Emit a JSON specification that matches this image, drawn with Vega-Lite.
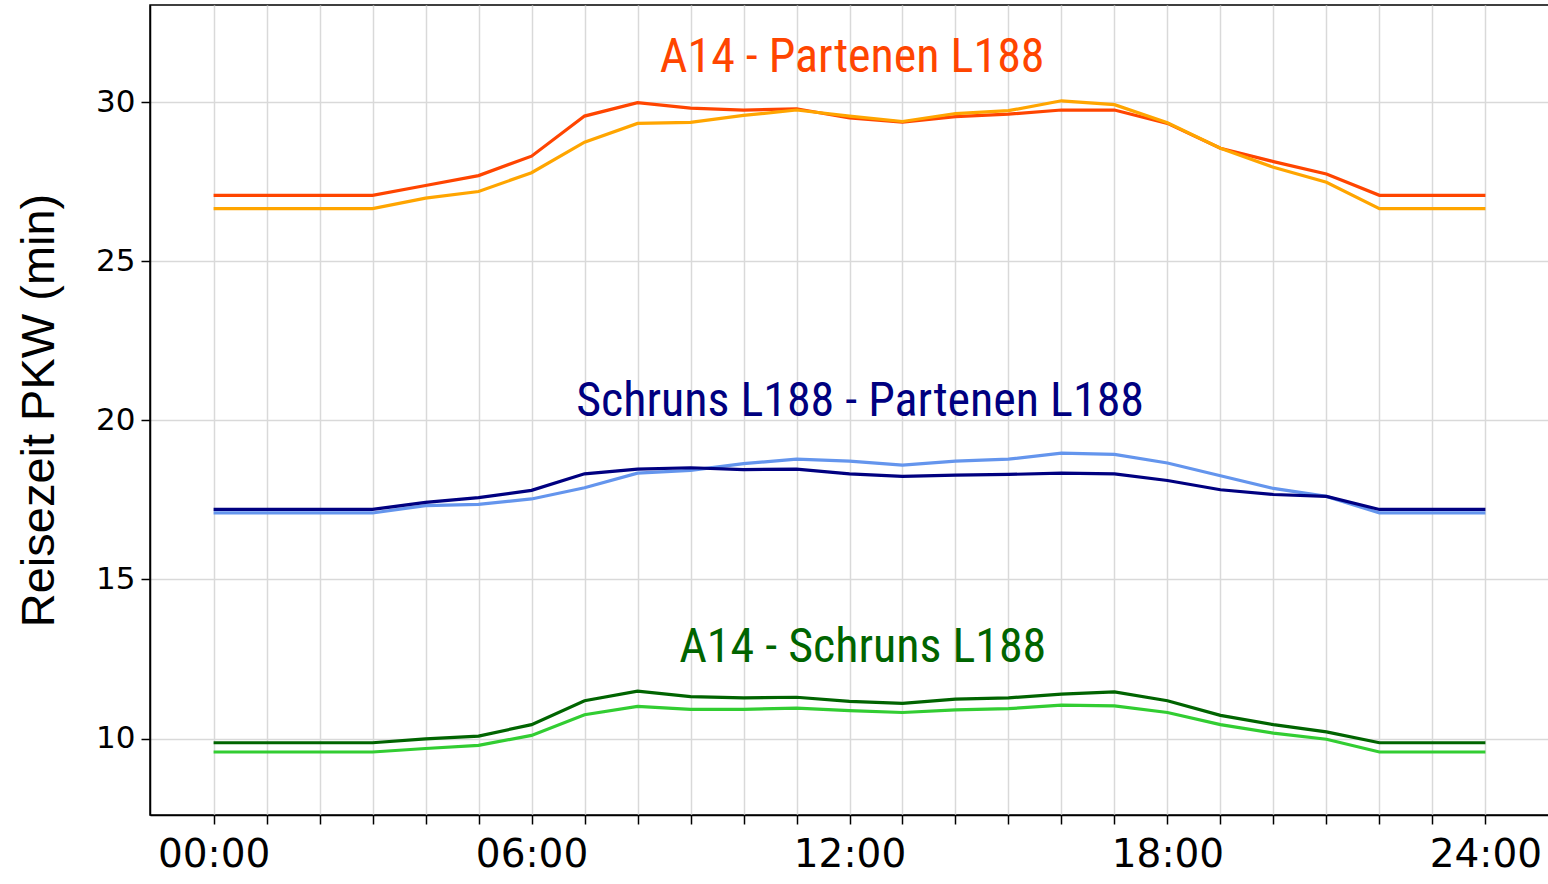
{
  "$schema": "https://vega.github.io/schema/vega-lite/v6.json",
  "autosize": {"type": "none"},
  "padding": {"left": 150, "top": 5, "right": 0, "bottom": 69},
  "width": 1399,
  "height": 810,
  "background": "white",
  "config": {
    "view": {"stroke": "black", "strokeWidth": 1.5},
    "axis": {"gridColor": "#d9d9d9", "gridWidth": 1.5, "domainColor": "black", "domainWidth": 1.5, "tickColor": "black", "tickWidth": 1.5, "tickSize": 9, "labelColor": "black", "titleColor": "black"}
  },
  "datasets": {
    "lines": [
      {"s": "A14-Partenen-1", "h": 0, "v": 27.07}, {"s": "A14-Partenen-1", "h": 1, "v": 27.07}, {"s": "A14-Partenen-1", "h": 2, "v": 27.07}, {"s": "A14-Partenen-1", "h": 3, "v": 27.07}, {"s": "A14-Partenen-1", "h": 4, "v": 27.38}, {"s": "A14-Partenen-1", "h": 5, "v": 27.69}, {"s": "A14-Partenen-1", "h": 6, "v": 28.30}, {"s": "A14-Partenen-1", "h": 7, "v": 29.56}, {"s": "A14-Partenen-1", "h": 8, "v": 29.98}, {"s": "A14-Partenen-1", "h": 9, "v": 29.81}, {"s": "A14-Partenen-1", "h": 10, "v": 29.75}, {"s": "A14-Partenen-1", "h": 11, "v": 29.79}, {"s": "A14-Partenen-1", "h": 12, "v": 29.50}, {"s": "A14-Partenen-1", "h": 13, "v": 29.37}, {"s": "A14-Partenen-1", "h": 14, "v": 29.54}, {"s": "A14-Partenen-1", "h": 15, "v": 29.62}, {"s": "A14-Partenen-1", "h": 16, "v": 29.75}, {"s": "A14-Partenen-1", "h": 17, "v": 29.75}, {"s": "A14-Partenen-1", "h": 18, "v": 29.33}, {"s": "A14-Partenen-1", "h": 19, "v": 28.55}, {"s": "A14-Partenen-1", "h": 20, "v": 28.13}, {"s": "A14-Partenen-1", "h": 21, "v": 27.74}, {"s": "A14-Partenen-1", "h": 22, "v": 27.07}, {"s": "A14-Partenen-1", "h": 23, "v": 27.07}, {"s": "A14-Partenen-1", "h": 24, "v": 27.07},
      {"s": "A14-Partenen-2", "h": 0, "v": 26.65}, {"s": "A14-Partenen-2", "h": 1, "v": 26.65}, {"s": "A14-Partenen-2", "h": 2, "v": 26.65}, {"s": "A14-Partenen-2", "h": 3, "v": 26.65}, {"s": "A14-Partenen-2", "h": 4, "v": 26.98}, {"s": "A14-Partenen-2", "h": 5, "v": 27.19}, {"s": "A14-Partenen-2", "h": 6, "v": 27.78}, {"s": "A14-Partenen-2", "h": 7, "v": 28.74}, {"s": "A14-Partenen-2", "h": 8, "v": 29.33}, {"s": "A14-Partenen-2", "h": 9, "v": 29.36}, {"s": "A14-Partenen-2", "h": 10, "v": 29.58}, {"s": "A14-Partenen-2", "h": 11, "v": 29.75}, {"s": "A14-Partenen-2", "h": 12, "v": 29.56}, {"s": "A14-Partenen-2", "h": 13, "v": 29.39}, {"s": "A14-Partenen-2", "h": 14, "v": 29.64}, {"s": "A14-Partenen-2", "h": 15, "v": 29.73}, {"s": "A14-Partenen-2", "h": 16, "v": 30.04}, {"s": "A14-Partenen-2", "h": 17, "v": 29.92}, {"s": "A14-Partenen-2", "h": 18, "v": 29.35}, {"s": "A14-Partenen-2", "h": 19, "v": 28.55}, {"s": "A14-Partenen-2", "h": 20, "v": 27.95}, {"s": "A14-Partenen-2", "h": 21, "v": 27.48}, {"s": "A14-Partenen-2", "h": 22, "v": 26.65}, {"s": "A14-Partenen-2", "h": 23, "v": 26.65}, {"s": "A14-Partenen-2", "h": 24, "v": 26.65},
      {"s": "Schruns-Partenen-2", "h": 0, "v": 17.09}, {"s": "Schruns-Partenen-2", "h": 1, "v": 17.09}, {"s": "Schruns-Partenen-2", "h": 2, "v": 17.09}, {"s": "Schruns-Partenen-2", "h": 3, "v": 17.09}, {"s": "Schruns-Partenen-2", "h": 4, "v": 17.32}, {"s": "Schruns-Partenen-2", "h": 5, "v": 17.36}, {"s": "Schruns-Partenen-2", "h": 6, "v": 17.53}, {"s": "Schruns-Partenen-2", "h": 7, "v": 17.88}, {"s": "Schruns-Partenen-2", "h": 8, "v": 18.34}, {"s": "Schruns-Partenen-2", "h": 9, "v": 18.43}, {"s": "Schruns-Partenen-2", "h": 10, "v": 18.64}, {"s": "Schruns-Partenen-2", "h": 11, "v": 18.78}, {"s": "Schruns-Partenen-2", "h": 12, "v": 18.72}, {"s": "Schruns-Partenen-2", "h": 13, "v": 18.59}, {"s": "Schruns-Partenen-2", "h": 14, "v": 18.72}, {"s": "Schruns-Partenen-2", "h": 15, "v": 18.78}, {"s": "Schruns-Partenen-2", "h": 16, "v": 18.97}, {"s": "Schruns-Partenen-2", "h": 17, "v": 18.93}, {"s": "Schruns-Partenen-2", "h": 18, "v": 18.66}, {"s": "Schruns-Partenen-2", "h": 19, "v": 18.26}, {"s": "Schruns-Partenen-2", "h": 20, "v": 17.86}, {"s": "Schruns-Partenen-2", "h": 21, "v": 17.61}, {"s": "Schruns-Partenen-2", "h": 22, "v": 17.09}, {"s": "Schruns-Partenen-2", "h": 23, "v": 17.09}, {"s": "Schruns-Partenen-2", "h": 24, "v": 17.09},
      {"s": "Schruns-Partenen-1", "h": 0, "v": 17.20}, {"s": "Schruns-Partenen-1", "h": 1, "v": 17.20}, {"s": "Schruns-Partenen-1", "h": 2, "v": 17.20}, {"s": "Schruns-Partenen-1", "h": 3, "v": 17.20}, {"s": "Schruns-Partenen-1", "h": 4, "v": 17.42}, {"s": "Schruns-Partenen-1", "h": 5, "v": 17.57}, {"s": "Schruns-Partenen-1", "h": 6, "v": 17.80}, {"s": "Schruns-Partenen-1", "h": 7, "v": 18.32}, {"s": "Schruns-Partenen-1", "h": 8, "v": 18.47}, {"s": "Schruns-Partenen-1", "h": 9, "v": 18.51}, {"s": "Schruns-Partenen-1", "h": 10, "v": 18.45}, {"s": "Schruns-Partenen-1", "h": 11, "v": 18.47}, {"s": "Schruns-Partenen-1", "h": 12, "v": 18.32}, {"s": "Schruns-Partenen-1", "h": 13, "v": 18.24}, {"s": "Schruns-Partenen-1", "h": 14, "v": 18.28}, {"s": "Schruns-Partenen-1", "h": 15, "v": 18.30}, {"s": "Schruns-Partenen-1", "h": 16, "v": 18.34}, {"s": "Schruns-Partenen-1", "h": 17, "v": 18.32}, {"s": "Schruns-Partenen-1", "h": 18, "v": 18.11}, {"s": "Schruns-Partenen-1", "h": 19, "v": 17.82}, {"s": "Schruns-Partenen-1", "h": 20, "v": 17.67}, {"s": "Schruns-Partenen-1", "h": 21, "v": 17.61}, {"s": "Schruns-Partenen-1", "h": 22, "v": 17.20}, {"s": "Schruns-Partenen-1", "h": 23, "v": 17.20}, {"s": "Schruns-Partenen-1", "h": 24, "v": 17.20},
      {"s": "A14-Schruns-1", "h": 0, "v": 9.87}, {"s": "A14-Schruns-1", "h": 1, "v": 9.87}, {"s": "A14-Schruns-1", "h": 2, "v": 9.87}, {"s": "A14-Schruns-1", "h": 3, "v": 9.87}, {"s": "A14-Schruns-1", "h": 4, "v": 9.99}, {"s": "A14-Schruns-1", "h": 5, "v": 10.08}, {"s": "A14-Schruns-1", "h": 6, "v": 10.44}, {"s": "A14-Schruns-1", "h": 7, "v": 11.19}, {"s": "A14-Schruns-1", "h": 8, "v": 11.49}, {"s": "A14-Schruns-1", "h": 9, "v": 11.32}, {"s": "A14-Schruns-1", "h": 10, "v": 11.28}, {"s": "A14-Schruns-1", "h": 11, "v": 11.30}, {"s": "A14-Schruns-1", "h": 12, "v": 11.17}, {"s": "A14-Schruns-1", "h": 13, "v": 11.11}, {"s": "A14-Schruns-1", "h": 14, "v": 11.24}, {"s": "A14-Schruns-1", "h": 15, "v": 11.28}, {"s": "A14-Schruns-1", "h": 16, "v": 11.40}, {"s": "A14-Schruns-1", "h": 17, "v": 11.47}, {"s": "A14-Schruns-1", "h": 18, "v": 11.19}, {"s": "A14-Schruns-1", "h": 19, "v": 10.73}, {"s": "A14-Schruns-1", "h": 20, "v": 10.44}, {"s": "A14-Schruns-1", "h": 21, "v": 10.21}, {"s": "A14-Schruns-1", "h": 22, "v": 9.87}, {"s": "A14-Schruns-1", "h": 23, "v": 9.87}, {"s": "A14-Schruns-1", "h": 24, "v": 9.87},
      {"s": "A14-Schruns-2", "h": 0, "v": 9.58}, {"s": "A14-Schruns-2", "h": 1, "v": 9.58}, {"s": "A14-Schruns-2", "h": 2, "v": 9.58}, {"s": "A14-Schruns-2", "h": 3, "v": 9.58}, {"s": "A14-Schruns-2", "h": 4, "v": 9.69}, {"s": "A14-Schruns-2", "h": 5, "v": 9.79}, {"s": "A14-Schruns-2", "h": 6, "v": 10.10}, {"s": "A14-Schruns-2", "h": 7, "v": 10.75}, {"s": "A14-Schruns-2", "h": 8, "v": 11.01}, {"s": "A14-Schruns-2", "h": 9, "v": 10.92}, {"s": "A14-Schruns-2", "h": 10, "v": 10.92}, {"s": "A14-Schruns-2", "h": 11, "v": 10.96}, {"s": "A14-Schruns-2", "h": 12, "v": 10.88}, {"s": "A14-Schruns-2", "h": 13, "v": 10.82}, {"s": "A14-Schruns-2", "h": 14, "v": 10.90}, {"s": "A14-Schruns-2", "h": 15, "v": 10.94}, {"s": "A14-Schruns-2", "h": 16, "v": 11.05}, {"s": "A14-Schruns-2", "h": 17, "v": 11.03}, {"s": "A14-Schruns-2", "h": 18, "v": 10.82}, {"s": "A14-Schruns-2", "h": 19, "v": 10.44}, {"s": "A14-Schruns-2", "h": 20, "v": 10.17}, {"s": "A14-Schruns-2", "h": 21, "v": 9.98}, {"s": "A14-Schruns-2", "h": 22, "v": 9.58}, {"s": "A14-Schruns-2", "h": 23, "v": 9.58}, {"s": "A14-Schruns-2", "h": 24, "v": 9.58}
    ],
    "labels": [
      {"label": "A14 - Partenen L188", "s": "A14-Partenen-1", "h": 12.05, "v": 31.38},
      {"label": "Schruns L188 - Partenen L188", "s": "Schruns-Partenen-1", "h": 12.2, "v": 20.57},
      {"label": "A14 - Schruns L188", "s": "A14-Schruns-1", "h": 12.25, "v": 12.86}
    ]
  },
  "layer": [
    {
      "data": {"name": "lines"},
      "mark": {"type": "line", "strokeWidth": 3.2, "clip": true},
      "encoding": {
        "x": {
          "field": "h", "type": "quantitative",
          "scale": {"domain": [-1.2, 25.2], "nice": false, "zero": false},
          "axis": {
            "values": [0,1,2,3,4,5,6,7,8,9,10,11,12,13,14,15,16,17,18,19,20,21,22,23,24],
            "labelExpr": "datum.value % 6 == 0 ? (datum.value < 10 ? '0' + datum.value + ':00' : datum.value + ':00') : ''",
            "labelFont": "DejaVu Sans", "labelFontSize": 39, "labelPadding": 11,
            "title": null, "grid": true, "labelOverlap": false, "labelFlush": false
          }
        },
        "y": {
          "field": "v", "type": "quantitative",
          "scale": {"domain": [7.6, 33.05], "nice": false, "zero": false},
          "axis": {
            "values": [10, 15, 20, 25, 30],
            "labelFont": "DejaVu Sans", "labelFontSize": 31, "labelPadding": 6,
            "title": "Reisezeit PKW (min)",
            "titleFont": "Liberation Sans",
            "titleFontSize": 47, "titleFontWeight": "normal", "titlePadding": 32
          }
        },
        "color": {
          "field": "s", "type": "nominal", "legend": null,
          "scale": {
            "domain": ["A14-Partenen-1", "A14-Partenen-2", "Schruns-Partenen-1", "Schruns-Partenen-2", "A14-Schruns-1", "A14-Schruns-2"],
            "range": ["#ff4500", "#ffa500", "#000080", "#6495ed", "#006400", "#32cd32"]
          }
        }
      }
    },
    {
      "data": {"name": "labels"},
      "mark": {"type": "text", "font": "Roboto Condensed", "fontSize": 48, "fontWeight": "normal", "align": "center", "baseline": "middle"},
      "encoding": {
        "x": {"field": "h", "type": "quantitative"},
        "y": {"field": "v", "type": "quantitative"},
        "text": {"field": "label"},
        "color": {"field": "s", "type": "nominal", "legend": null}
      }
    }
  ]
}
